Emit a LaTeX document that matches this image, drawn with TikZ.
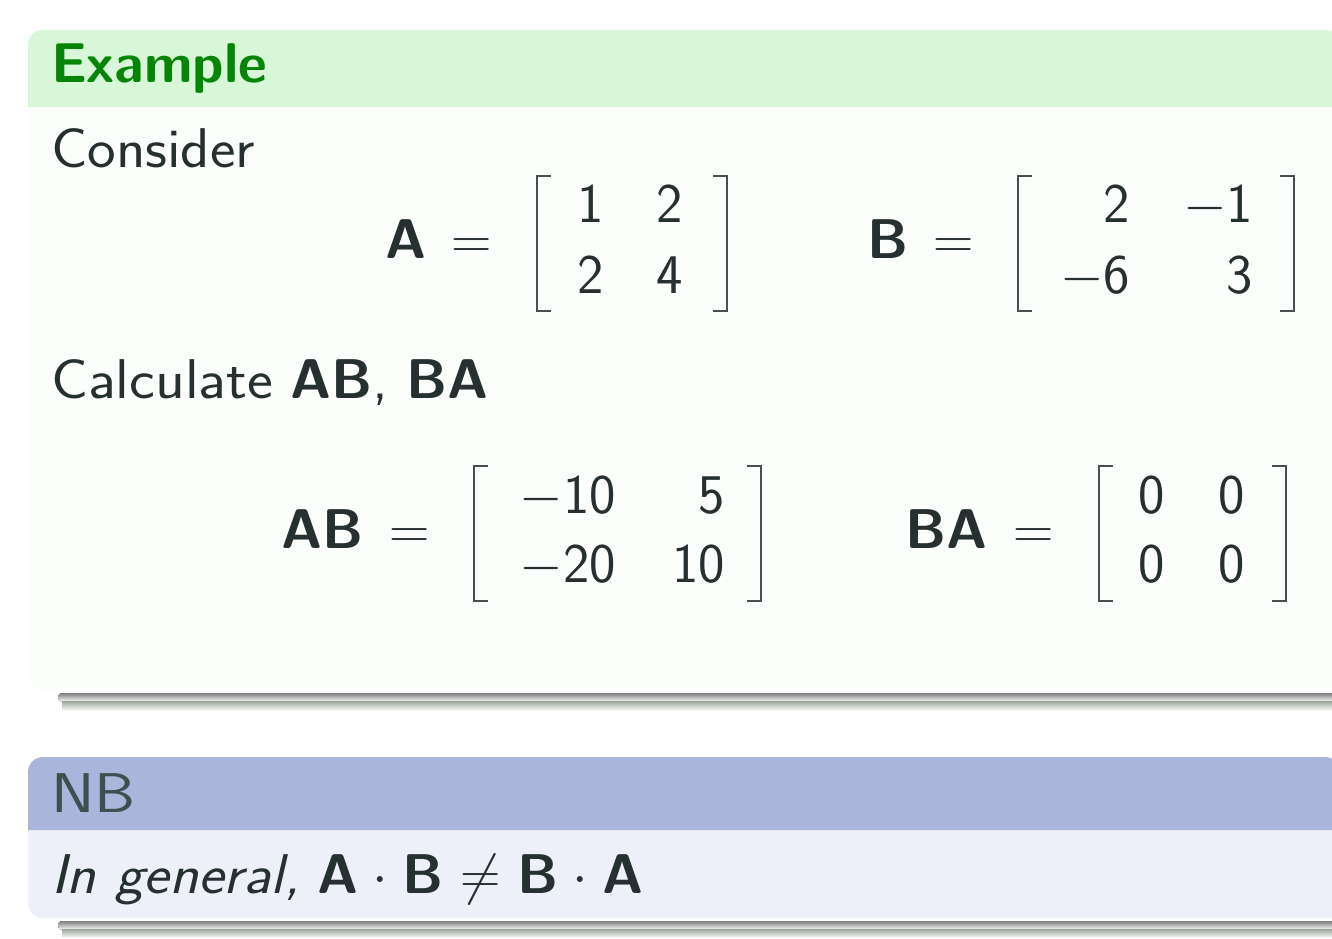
\RequirePackage{fix-cm}
\documentclass[tikz,border=0pt]{standalone}
\usepackage{fontspec}
\usepackage{graphicx}
\usetikzlibrary{calc}
\definecolor{txt}{HTML}{263030}
\definecolor{exgreen}{HTML}{068406}
\definecolor{exband}{HTML}{D8F6D8}
\definecolor{exbody}{HTML}{FCFEFC}
\definecolor{nbband}{HTML}{ABB4DA}
\definecolor{nbbody}{HTML}{EDF0F9}
\definecolor{nbtxt}{HTML}{3C5050}
\definecolor{shade}{HTML}{9AA59C}
\newcommand{\wide}[1]{\scalebox{1.085}[1]{#1}}
\tikzset{
  lbl/.style={inner sep=0pt, outer sep=0pt, anchor=base west, text=txt},
  ent/.style={inner sep=0pt, outer sep=0pt, anchor=base, text=txt},
  entr/.style={inner sep=0pt, outer sep=0pt, anchor=base east, text=txt},
  brk/.style={draw=txt!85, line width=2pt},
}
\begin{document}
\begin{tikzpicture}[x=1pt,y=-1pt,font=\sffamily\fontsize{56}{60}\selectfont]
\useasboundingbox (0,0) rectangle (1332,938);
\fill[white] (0,0) rectangle (1332,938);
% ---- Example block
\fill[exbody] (28,107) [rounded corners=15pt] -- (28,690) [sharp corners] -- (1340,690) -- (1340,107) -- cycle;
\fill[exband] (28,107) [rounded corners=15pt] |- (1340,30) [sharp corners] -- (1340,107) -- cycle;
\fill[shade, rounded corners=4pt] (58,693) rectangle (1340,702);
\shade[top color=shade, bottom color=white] (62,701) rectangle (1340,711);
% ---- NB block
\fill[nbbody] (28,830) [rounded corners=15pt] -- (28,918) [sharp corners] -- (1340,918) -- (1340,830) -- cycle;
\fill[nbband] (28,830) [rounded corners=15pt] |- (1340,757) [sharp corners] -- (1340,830) -- cycle;
\fill[shade, rounded corners=4pt] (58,921) rectangle (1340,930);
\shade[top color=shade, bottom color=white] (62,929) rectangle (1340,938);
% ---- texts
\node[lbl, text=exgreen, font=\sffamily\bfseries\fontsize{56}{60}\selectfont] (extitle) at (51,82) {Example};
\node[lbl] (consider) at (51,167) {\wide{Consider}};
% A = [1 2; 2 4]
\node[lbl] (A) at (385,258) {\textbf{A}};
\node[ent] (eqA) at (472,258) {$=$};
\draw[brk] (551,176) -| (537,311) -- (551,311);
\draw[brk] (713,176) -| (727,311) -- (713,311);
\node[ent] (a11) at (591,222) {1};
\node[ent] (a12) at (670,222) {2};
\node[ent] (a21) at (591,293) {2};
\node[ent] (a22) at (670,293) {4};
% B = [2 -1; -6 3]
\node[lbl] (B) at (867,258) {\textbf{B}};
\node[ent] (eqB) at (954,258) {$=$};
\draw[brk] (1032,176) -| (1018,311) -- (1032,311);
\draw[brk] (1280,176) -| (1294,311) -- (1280,311);
\node[entr] (b11) at (1130,222) {2};
\node[entr] (b12) at (1253,222) {$-$1};
\node[entr] (b21) at (1130,293) {$-$6};
\node[entr] (b22) at (1253,293) {3};
% Calculate
\node[lbl] (calc) at (51,398) {\scalebox{1.1}[1]{Calculate} \textbf{AB}\wide{,} \textbf{BA}};
% AB
\node[lbl] (AB) at (281,548) {\textbf{AB}};
\node[ent] (eqAB) at (410,548) {$=$};
\draw[brk] (488,466) -| (474,601) -- (488,601);
\draw[brk] (747,466) -| (761,601) -- (747,601);
\node[entr] (ab11) at (616,513) {$-$10};
\node[entr] (ab12) at (725,513) {5};
\node[entr] (ab21) at (616,582) {$-$20};
\node[entr] (ab22) at (725,582) {10};
% BA
\node[lbl] (BA) at (905,548) {\textbf{BA}};
\node[ent] (eqBA) at (1034,548) {$=$};
\draw[brk] (1113,466) -| (1099,601) -- (1113,601);
\draw[brk] (1272,466) -| (1286,601) -- (1272,601);
\node[ent] (ba11) at (1152,513) {0};
\node[ent] (ba12) at (1232,513) {0};
\node[ent] (ba21) at (1152,582) {0};
\node[ent] (ba22) at (1232,582) {0};
% NB
\node[lbl, text=nbtxt] (nbtitle) at (51,812) {\scalebox{1.17}[1]{NB}};
\node[lbl] (nbline) at (51,893) {\wide{\itshape In general,} \textbf{A}${}\mkern0.5mu\cdot\mkern0.5mu{}$\textbf{B}${}\mkern0.5mu\neq\mkern0.5mu{}$\textbf{B}${}\mkern0.5mu\cdot\mkern0.5mu{}$\textbf{A}};
\end{tikzpicture}
\end{document}
